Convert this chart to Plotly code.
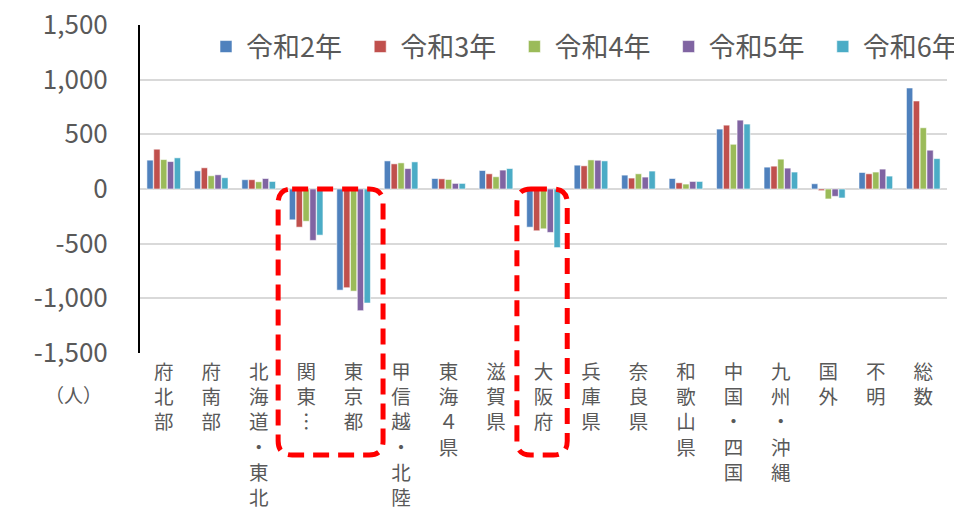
import plotly.graph_objects as go

# data (人)
categories = ['府北部', '府南部', '北海道・東北', '関東︙', '東京都', '甲信越・北陸', '東海４県',
              '滋賀県', '大阪府', '兵庫県', '奈良県', '和歌山県', '中国・四国', '九州・沖縄',
              '国外', '不明', '総数']
r2 = [264, 166, 85, -282, -925, 257, 96, 169, -349, 218, 127, 96, 548, 200, 48, 151, 924]
r3 = [364, 194, 85, -349, -903, 230, 93, 139, -382, 212, 100, 57, 584, 209, -15, 139, 805]
r4 = [269, 121, 66, -295, -934, 239, 87, 112, -364, 266, 139, 45, 409, 273, -91, 155, 560]
r5 = [251, 130, 96, -470, -1113, 187, 51, 173, -397, 263, 109, 69, 630, 191, -67, 182, 355]
r6 = [285, 103, 69, -422, -1043, 248, 51, 187, -536, 257, 164, 69, 594, 155, -82, 118, 278]
series_names = ['令和2年', '令和3年', '令和4年', '令和5年', '令和6年']
y_ticks = [-1500, -1000, -500, 0, 500, 1000, 1500]

c_blue = '#4F81BD'
c_red = '#C0504D'
c_green = '#9BBB59'
c_purple = '#8064A2'
c_cyan = '#4BACC6'
colors = [c_blue, c_red, c_green, c_purple, c_cyan]
c_text = '#595959'
c_grid = '#D9D9D9'
FONT = 'Noto Sans CJK JP'

# the page body adds an 8px offset, so margins are shifted by 8
W, H = 962, 514
OFF = 8
PL, PT, PW, PH = 140, 25, 807, 328   # plot area in page pixels
margin = go.layout.Margin(l=PL - OFF, r=W - (PL - OFF) - PW, t=PT - OFF, b=H - (PT - OFF) - PH,
                          pad=0, autoexpand=False)

# vertical labels: one character per line
vlabels = ['<br>'.join(list(c)) for c in categories]
# plain hyphen minus, like the original
y_text = [f'{v:,}' for v in y_ticks]

# one legend per series so the entries sit evenly across the top
legend_keys = ['legend'] + [f'legend{i}' for i in range(2, 6)]

fig = go.Figure()
for key, name, vals, col in zip(legend_keys, series_names, [r2, r3, r4, r5, r6], colors):
    fig.add_trace(go.Bar(x=vlabels, y=vals, name=name, legend=key,
                         marker=dict(color=col, line=dict(color='rgba(255,255,255,0.7)', width=0.8))))

fig.update_layout(
    width=W, height=H, margin=margin,
    paper_bgcolor='white', plot_bgcolor='white',
    barmode='group', bargap=0.28, bargroupgap=0.08,
    font=dict(family=FONT, color=c_text),
    showlegend=True,
    xaxis=dict(showgrid=False, showline=False, automargin=False,
               tickfont=dict(size=19.5, color=c_text),
               ticklabelstandoff=5, tickangle=0, ticklabeloverflow='allow'),
    yaxis=dict(range=[-1500, 1500], tickvals=y_ticks, ticktext=y_text, automargin=False,
               showgrid=True, gridcolor=c_grid, gridwidth=2,
               zeroline=True, zerolinecolor=c_grid, zerolinewidth=2,
               showline=True, linecolor='black', linewidth=2,
               tickfont=dict(size=26, color=c_text),
               ticklabelstandoff=25, ticklabeloverflow='allow'),
)
for i, key in enumerate(legend_keys):
    left = 233 + 154.2 * i - 27
    fig.update_layout(**{key: dict(orientation='h', x=(left - PL) / PW, y=(PT + PH - 47) / PH,
                                   xanchor='left', yanchor='middle',
                                   font=dict(size=27, color=c_text), bgcolor='rgba(0,0,0,0)')})

fig.add_annotation(text='（人）', xref='paper', yref='paper', x=(73 - PL) / PW, y=(PT + PH - 394) / PH,
                   showarrow=False, font=dict(size=19, color=c_text), xanchor='center', yanchor='middle')

# red dashed rounded boxes around 関東・東京都 and 大阪府 (category units -> paper)
n = len(categories)
def rounded_box(c0, c1, y_top, y_bot, r=14):
    x0, x1 = c0 / n, c1 / n
    rx, ry = r / PW, r / PH
    return (f'M{x0 + rx},{y_top} L{x1 - rx},{y_top} Q{x1},{y_top} {x1},{y_top - ry} '
            f'L{x1},{y_bot + ry} Q{x1},{y_bot} {x1 - rx},{y_bot} '
            f'L{x0 + rx},{y_bot} Q{x0},{y_bot} {x0},{y_bot + ry} '
            f'L{x0},{y_top - ry} Q{x0},{y_top} {x0 + rx},{y_top} Z')

for c0, c1 in [(2.91, 5.12), (7.94, 9.0)]:
    fig.add_shape(type='path', xref='paper', yref='paper',
                  path=rounded_box(c0, c1, 0.5, (PT + PH - 455) / PH),
                  line=dict(color='#FF0000', width=5, dash='16px,9px'), layer='above')

fig.write_html('out.html')
